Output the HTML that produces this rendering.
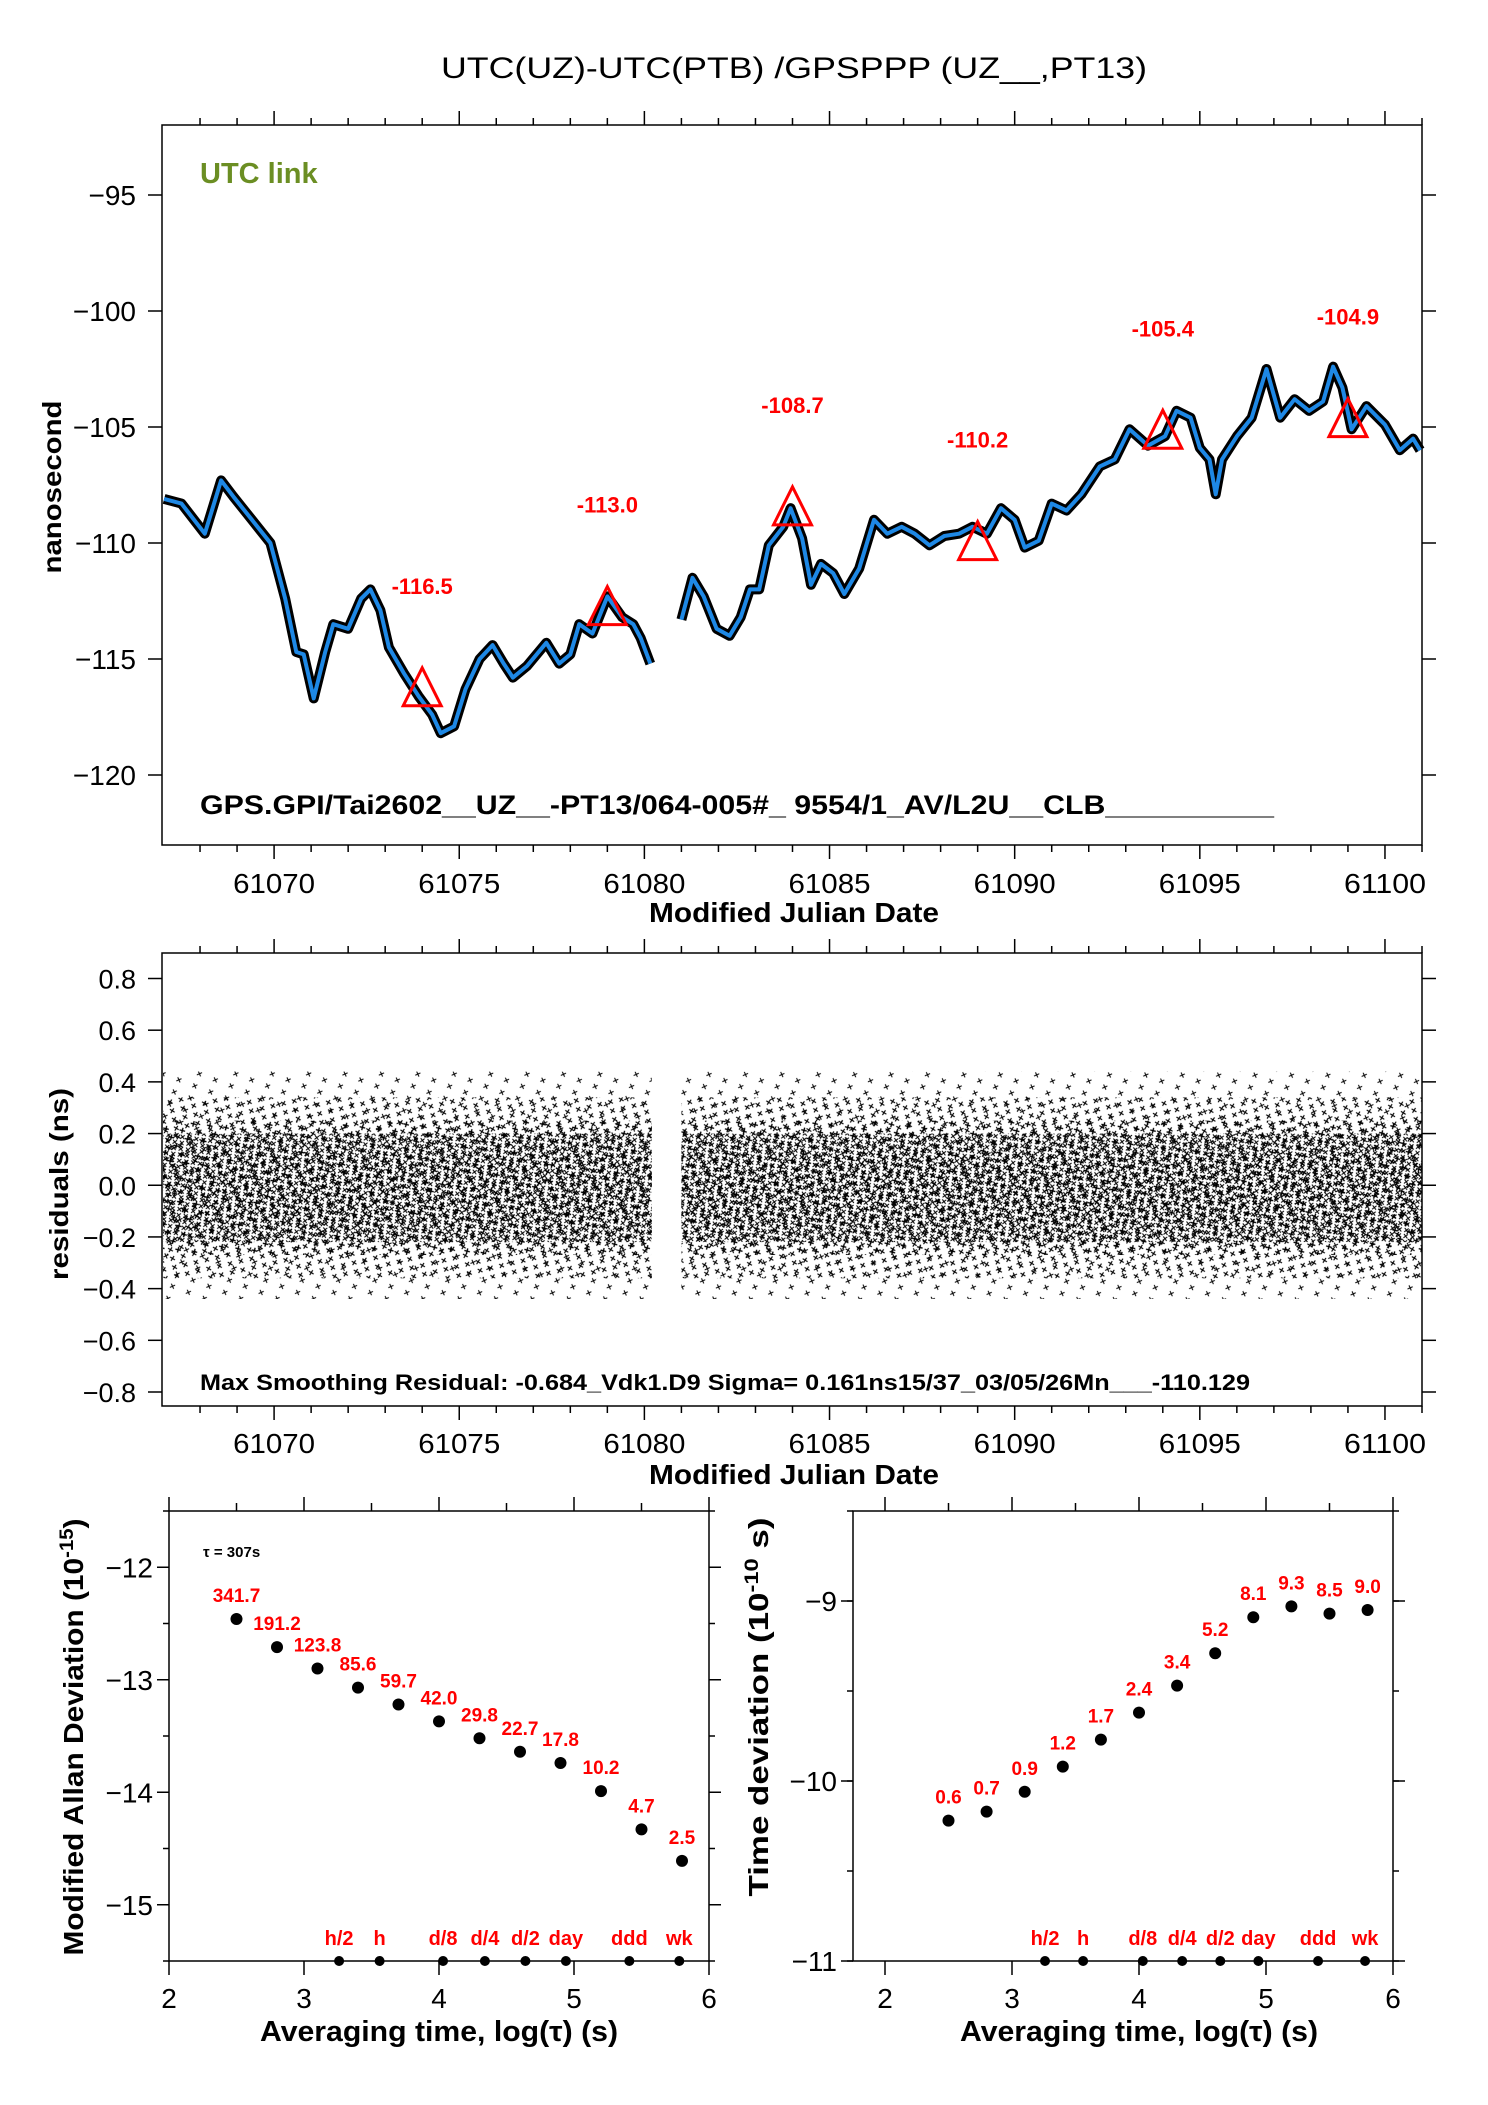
<!DOCTYPE html>
<html><head><meta charset="utf-8"><style>
html,body{margin:0;padding:0;background:#fff;}
svg{display:block;font-family:"Liberation Sans",sans-serif;}
</style></head><body>
<svg id="s" width="1488" height="2105" viewBox="0 0 1488 2105" xmlns="http://www.w3.org/2000/svg">
<defs>
<pattern id="xp1" width="7" height="6" patternUnits="userSpaceOnUse" patternTransform="rotate(8)"><path d="M1 0.5L5 4.5M5 0.5L1 4.5" stroke="#000" stroke-width="1"/></pattern>
<pattern id="xp2" width="11" height="9" patternUnits="userSpaceOnUse" patternTransform="rotate(-13) translate(3,2)"><path d="M1 1L5 5M5 1L1 5" stroke="#000" stroke-width="1.2"/></pattern>
<pattern id="xp3" width="17" height="13" patternUnits="userSpaceOnUse" patternTransform="rotate(21) translate(7,5)"><path d="M1 1L5 5M5 1L1 5" stroke="#000" stroke-width="1"/></pattern>
<pattern id="xp4" width="13" height="10" patternUnits="userSpaceOnUse" patternTransform="rotate(-31)"><path d="M1 1L5 5M5 1L1 5" stroke="#000" stroke-width="1.3"/></pattern>
</defs>
<text x="794" y="78" font-size="30" text-anchor="middle" textLength="706" lengthAdjust="spacingAndGlyphs">UTC(UZ)-UTC(PTB)  /GPSPPP  (UZ__,PT13)</text>
<g id="g"></g>
</svg>
<script>
// ---- top chart data ----
const mjdA=[61067.03,61067.5,61068.13,61068.57,61068.9,61069.4,61069.9,61070.3,61070.6,61070.8,61071.07,61071.38,61071.6,61072.0,61072.35,61072.6,61072.87,61073.1,61073.5,61073.9,61074.27,61074.5,61074.86,61075.17,61075.55,61075.9,61076.2,61076.45,61076.83,61077.35,61077.7,61078.0,61078.24,61078.6,61079.0,61079.4,61079.7,61079.9,61080.16];
const nsA=[-108.1,-108.3,-109.6,-107.3,-108.0,-109.0,-110.0,-112.4,-114.7,-114.8,-116.7,-114.7,-113.5,-113.7,-112.4,-112.0,-112.9,-114.5,-115.6,-116.6,-117.4,-118.2,-117.9,-116.3,-115.0,-114.4,-115.2,-115.8,-115.3,-114.3,-115.2,-114.8,-113.5,-113.9,-112.3,-113.2,-113.5,-114.1,-115.2];
const mjdB=[61081.0,61081.3,61081.6,61081.95,61082.3,61082.6,61082.85,61083.1,61083.36,61083.75,61083.95,61084.26,61084.5,61084.77,61085.1,61085.4,61085.8,61086.2,61086.56,61086.95,61087.3,61087.7,61088.1,61088.5,61088.86,61089.25,61089.63,61090.0,61090.27,61090.65,61091.0,61091.4,61091.8,61092.3,61092.7,61093.1,61093.6,61094.06,61094.37,61094.75,61095.0,61095.26,61095.43,61095.6,61096.0,61096.4,61096.8,61097.17,61097.56,61097.95,61098.33,61098.6,61098.85,61099.1,61099.5,61100.0,61100.4,61100.76,61100.95];
const nsB=[-113.3,-111.5,-112.3,-113.7,-114.0,-113.2,-112.0,-112.0,-110.1,-109.3,-108.5,-109.8,-111.8,-110.9,-111.3,-112.2,-111.1,-109.0,-109.6,-109.3,-109.6,-110.1,-109.7,-109.6,-109.3,-109.6,-108.5,-109.0,-110.2,-109.9,-108.3,-108.6,-107.9,-106.7,-106.4,-105.1,-105.8,-105.4,-104.3,-104.6,-105.9,-106.4,-107.9,-106.4,-105.4,-104.6,-102.5,-104.6,-103.8,-104.3,-103.9,-102.4,-103.3,-105.1,-104.1,-104.9,-106.0,-105.5,-106.0];
const triMjd=[61074,61079,61084,61089,61094,61099];
const triVal=[-116.5,-113.0,-108.7,-110.2,-105.4,-104.9];
const triLbl=["-116.5","-113.0","-108.7","-110.2","-105.4","-104.9"];
const topYTicks=[-95,-100,-105,-110,-115,-120];
const mjdTicks=[61070,61075,61080,61085,61090,61095,61100];
// ---- residuals ----
const resSegments=[[61067.0,61080.2],[61081.0,61101.0]];
const resYTicks=[0.8,0.6,0.4,0.2,0.0,-0.2,-0.4,-0.6,-0.8];
const resYLbl=["0.8","0.6","0.4","0.2","0.0","\u22120.2","\u22120.4","\u22120.6","\u22120.8"];
// ---- allan ----
const logTau=[2.5,2.8,3.1,3.4,3.7,4.0,4.3,4.6,4.9,5.2,5.5,5.8];
const madev=[-12.46,-12.71,-12.90,-13.07,-13.22,-13.37,-13.52,-13.64,-13.74,-13.99,-14.33,-14.61];
const madLbl=["341.7","191.2","123.8","85.6","59.7","42.0","29.8","22.7","17.8","10.2","4.7","2.5"];
const tdev=[-10.22,-10.17,-10.06,-9.92,-9.77,-9.62,-9.47,-9.29,-9.09,-9.03,-9.07,-9.05];
const tdevLbl=["0.6","0.7","0.9","1.2","1.7","2.4","3.4","5.2","8.1","9.3","8.5","9.0"];
const markPos=[3.26,3.56,4.03,4.34,4.64,4.94,5.41,5.78];
const markLbl=["h/2","h","d/8","d/4","d/2","day","ddd","wk"];

const NS="http://www.w3.org/2000/svg";
const G=document.getElementById('g');
function el(t,a,p){const e=document.createElementNS(NS,t);for(const k in a)e.setAttribute(k,a[k]);(p||G).appendChild(e);return e;}
function txt(x,y,s,a){const e=el('text',Object.assign({x:x,y:y},a));e.textContent=s;return e;}
function lin(d0,d1,r0,r1){return v=>r0+(v-d0)/(d1-d0)*(r1-r0);}

const L0=162,R0=1422;
// TOP
const tx=lin(61067.0,61101.0,163,1422), ty=lin(-95,-120,195,775);
let f=el('rect',{x:L0,y:125,width:R0-L0,height:720,fill:'none',stroke:'#000','stroke-width':1.5});

for(let d=61068;d<=61101;d++){const x=tx(d);const big=d%5===0;
 el('line',{x1:x,x2:x,y1:125,y2:125-(big?14:7),stroke:'#000','stroke-width':1.5});
 el('line',{x1:x,x2:x,y1:845,y2:845+(big?14:7),stroke:'#000','stroke-width':1.5});}
mjdTicks.forEach(v=>{const t=txt(tx(v),893,String(v),{'font-size':28,'text-anchor':'middle',textLength:82,lengthAdjust:'spacingAndGlyphs'});
 });
topYTicks.forEach(v=>{const y=ty(v);el('line',{x1:L0,x2:L0-14,y1:y,y2:y,stroke:'#000','stroke-width':1.5});
 el('line',{x1:R0,x2:R0+14,y1:y,y2:y,stroke:'#000','stroke-width':1.5});
 const t=txt(136,y+10,'\u2212'+Math.abs(v),{'font-size':28,'text-anchor':'end'});
 });
let tt=txt(794,922,'Modified Julian Date',{'font-size':28,'font-weight':'bold','text-anchor':'middle',textLength:290,lengthAdjust:'spacingAndGlyphs'});

tt=txt(0,0,'nanosecond',{'font-size':26,'font-weight':'bold','text-anchor':'middle',textLength:173,lengthAdjust:'spacingAndGlyphs',transform:'translate(61,487) rotate(-90)'});

tt=txt(200,183,'UTC link',{'font-size':29,'font-weight':'bold',fill:'#6b8e23'});

tt=txt(200,814,'GPS.GPI/Tai2602__UZ__-PT13/064-005#_  9554/1_AV/L2U__CLB__________',{'font-size':27,'font-weight':'bold',textLength:1074,lengthAdjust:'spacingAndGlyphs'});

function pathOf(xs,ys){return xs.map((m,i)=>(i?'L':'M')+tx(m).toFixed(1)+' '+ty(ys[i]).toFixed(1)).join('');}
[[mjdA,nsA],[mjdB,nsB]].forEach((s,i)=>{
 const b=el('path',{d:pathOf(s[0],s[1]),fill:'none',stroke:'#000','stroke-width':10,'stroke-linejoin':'round'});
 
 const l=el('path',{d:pathOf(s[0],s[1]),fill:'none',stroke:'#1e88e5','stroke-width':4,'stroke-linejoin':'round'});
 });
triMjd.forEach((m,i)=>{const x=tx(m),y=ty(triVal[i]);
 const p=el('path',{d:`M${x} ${y-26}L${x-19} ${y+12}L${x+19} ${y+12}Z`,fill:'none',stroke:'#f00','stroke-width':3});
 
 const t=txt(x,y-100,triLbl[i],{'font-size':22,'font-weight':'bold',fill:'#f00','text-anchor':'middle'});
 });

// RESIDUALS
const ry=lin(0.8,-0.8,978.5,1392);
f=el('rect',{x:L0,y:953,width:R0-L0,height:453,fill:'none',stroke:'#000','stroke-width':1.5});

for(let d=61068;d<=61101;d++){const x=tx(d);const big=d%5===0;
 el('line',{x1:x,x2:x,y1:1406,y2:1406+(big?14:7),stroke:'#000','stroke-width':1.5});
 el('line',{x1:x,x2:x,y1:953,y2:953-(big?14:7),stroke:'#000','stroke-width':1.5});}
mjdTicks.forEach(v=>{const t=txt(tx(v),1453,String(v),{'font-size':28,'text-anchor':'middle',textLength:82,lengthAdjust:'spacingAndGlyphs'});
 });
resYTicks.forEach((v,i)=>{const y=ry(v);el('line',{x1:L0,x2:L0-14,y1:y,y2:y,stroke:'#000','stroke-width':1.5});
 el('line',{x1:R0,x2:R0+14,y1:y,y2:y,stroke:'#000','stroke-width':1.5});
 const t=txt(136,y+10,resYLbl[i],{'font-size':27,'text-anchor':'end'});
 });
resSegments.forEach(s=>{const x0=tx(s[0]),x1=tx(s[1]);
 let r=el('rect',{x:x0,y:ry(0.44),width:x1-x0,height:ry(-0.44)-ry(0.44),fill:'url(#xp3)'});
 
 r=el('rect',{x:x0,y:ry(0.34),width:x1-x0,height:ry(-0.36)-ry(0.34),fill:'url(#xp2)'});
 
 r=el('rect',{x:x0,y:ry(0.25),width:x1-x0,height:ry(-0.27)-ry(0.25),fill:'url(#xp4)'});
 
 r=el('rect',{x:x0,y:ry(0.2),width:x1-x0,height:ry(-0.22)-ry(0.2),fill:'url(#xp1)'});
 
 r=el('rect',{x:x0,y:ry(0.12),width:x1-x0,height:ry(-0.14)-ry(0.12),fill:'url(#xp2)'});
 });
tt=txt(200,1390,'Max Smoothing Residual: -0.684_Vdk1.D9  Sigma= 0.161ns15/37_03/05/26Mn___-110.129',{'font-size':22,'font-weight':'bold',textLength:1050,lengthAdjust:'spacingAndGlyphs'});

tt=txt(794,1484,'Modified Julian Date',{'font-size':28,'font-weight':'bold','text-anchor':'middle',textLength:290,lengthAdjust:'spacingAndGlyphs'});

tt=txt(0,0,'residuals (ns)',{'font-size':26,'font-weight':'bold','text-anchor':'middle',textLength:192,lengthAdjust:'spacingAndGlyphs',transform:'translate(68,1184) rotate(-90)'});


// BOTTOM panels
function panel(L,R,x0,x1,yTop,yBot,yd0,yd1,yticks,ylbl,vals,lbls,name,title,titleX,titleY,titleLen,tauTxt){
 const px=lin(2,6,x0,x1), py=lin(yd0,yd1,yTop,yBot);
 const fr=el('rect',{x:L,y:yTop,width:R-L,height:yBot-yTop,fill:'none',stroke:'#000','stroke-width':1.5});
 
 for(let v=2;v<=6.001;v+=0.5){const x=px(v),big=Math.abs(v-Math.round(v))<0.01;
  el('line',{x1:x,x2:x,y1:yTop,y2:yTop-(big?14:8),stroke:'#000','stroke-width':1.5});
  el('line',{x1:x,x2:x,y1:yBot,y2:yBot+(big?14:0),stroke:'#000','stroke-width':1.5});
  if(big){const t=txt(x,2008,String(Math.round(v)),{'font-size':28,'text-anchor':'middle'});
   }}
 yticks.forEach((v,i)=>{const y=py(v);
  el('line',{x1:L,x2:L-12,y1:y,y2:y,stroke:'#000','stroke-width':1.5});
  el('line',{x1:R,x2:R+12,y1:y,y2:y,stroke:'#000','stroke-width':1.5});
  const t=txt(L-16,y+10,ylbl[i],{'font-size':28,'text-anchor':'end'});
  });
 for(let v=Math.ceil(Math.min(yd0,yd1)*2)/2;v<=Math.max(yd0,yd1);v+=0.5){const y=py(v);
  el('line',{x1:R,x2:R+6,y1:y,y2:y,stroke:'#000','stroke-width':1.5});
  el('line',{x1:L,x2:L-6,y1:y,y2:y,stroke:'#000','stroke-width':1.5});}
 logTau.forEach((lt,i)=>{const c=el('circle',{cx:px(lt),cy:py(vals[i]),r:6,fill:'#000'});
  
  const t=txt(px(lt),py(vals[i])-17,lbls[i],{'font-size':19,'font-weight':'bold',fill:'#f00','text-anchor':'middle'});
  });
 markPos.forEach((m,i)=>{const c=el('circle',{cx:px(m),cy:yBot,r:5,fill:'#000'});
  
  const t=txt(px(m),yBot-16,markLbl[i],{'font-size':20,'font-weight':'bold',fill:'#f00','text-anchor':'middle'});
  });
 const xt=txt((x0+x1)/2,2041,'Averaging time, log(\u03c4) (s)',{'font-size':29,'font-weight':'bold','text-anchor':'middle',textLength:358,lengthAdjust:'spacingAndGlyphs'});
 
 const yt=txt(0,0,'',{'font-size':28,'font-weight':'bold','text-anchor':'middle',textLength:titleLen,lengthAdjust:'spacingAndGlyphs',transform:`translate(${titleX},${titleY}) rotate(-90)`});
 yt.innerHTML=title;
 if(tauTxt){const t=txt(L+34,1557,tauTxt,{'font-size':15,'font-weight':'bold'});
  }
}
panel(169,709,169,709,1511,1961,-11.5,-15.5,[-12,-13,-14,-15],['\u221212','\u221213','\u221214','\u221215'],madev,madLbl,'mdev-plot','Modified Allan Deviation (10<tspan dy="-10" font-size="19">-15</tspan><tspan dy="10">)</tspan>',83,1737,437,'\u03c4 = 307s');
panel(853,1393,885,1393,1511,1961,-8.5,-11,[-9,-10,-11],['\u22129','\u221210','\u221211'],tdev,tdevLbl,'tdev-plot','Time deviation (10<tspan dy="-10" font-size="19">-10</tspan><tspan dy="10"> s)</tspan>',768,1707,379,null);
</script>
</body></html>
